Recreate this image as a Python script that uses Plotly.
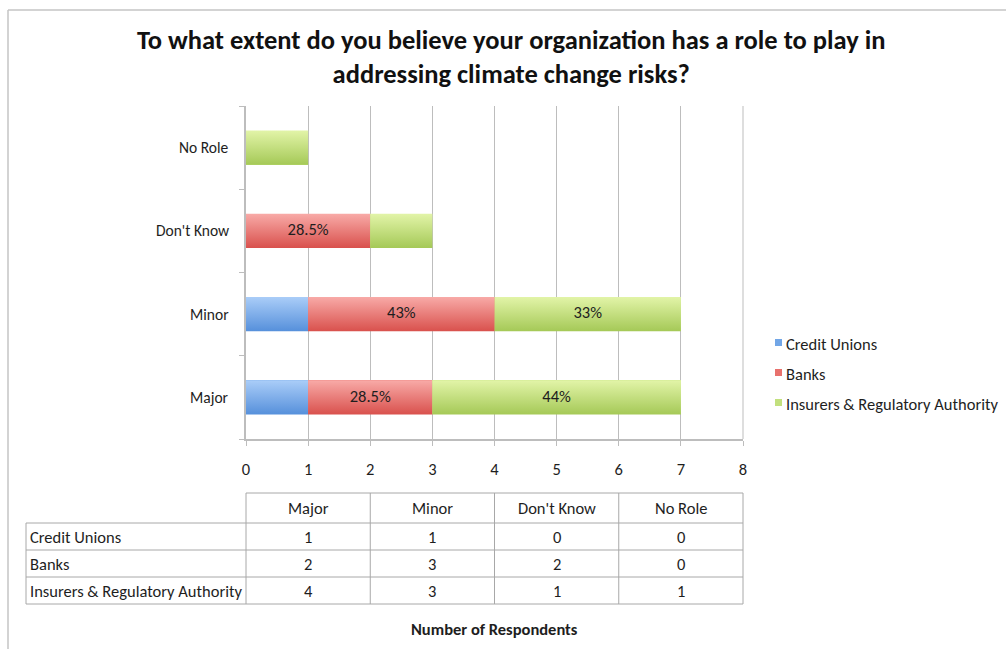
import plotly.graph_objects as go

# ---- data -------------------------------------------------------------
categories = ["Major", "Minor", "Don't Know", "No Role"]
series_names = ["Credit Unions", "Banks", "Insurers & Regulatory Authority"]
credit_unions = [1, 1, 0, 0]
banks = [2, 3, 2, 0]
insurers = [4, 3, 1, 1]
credit_unions_labels = ["", "", "", ""]
banks_labels = ["28.5%", "43%", "28.5%", ""]
insurers_labels = ["44%", "33%", "", ""]
x_ticks = [0, 1, 2, 3, 4, 5, 6, 7, 8]

title_text = ("To what extent do you believe your organization has a role to play in"
              "<br>addressing climate change risks?")
x_title = "Number of Respondents"

# ---- geometry / styles ------------------------------------------------
W, H = 1006, 649
L, R, T, B = 246, 263, 106, 210
PW, PH = W - L - R, H - T - B
FONT = "Carlito, Calibri, Lato, sans-serif"
GRID = "#bdbdbd"
TEXT = "#1e1e1e"
BAR_H = 0.41
FS = 16.5

# (legend colour, gradient top, gradient bottom)
palette = [
    ("#72a6e6", "#aacdf8", "#5690db"),
    ("#e8716d", "#f8aaa7", "#d9514d"),
    ("#c2e07e", "#e2f4a8", "#a5c957"),
]


def pxx(x):
    return (x - L) / PW


def pxy(y):
    return (H - B - y) / PH


series_values = [credit_unions, banks, insurers]
series_labels = [credit_unions_labels, banks_labels, insurers_labels]
ypos = list(range(len(categories)))

fig = go.Figure()

# stacked bars (solid base)
for name, vals, (solid, _, _) in zip(series_names, series_values, palette):
    fig.add_trace(go.Bar(
        y=ypos, x=vals, orientation="h", name=name, width=BAR_H,
        marker=dict(color=solid, line=dict(width=0)),
        showlegend=False, hoverinfo="x+name",
    ))

# vertical gradient overlay on each bar segment
base = [0] * len(categories)
centers = []
for vals, (_, top, bottom) in zip(series_values, palette):
    cen = []
    for i, v in enumerate(vals):
        b0 = base[i]
        cen.append(b0 + v / 2)
        if v > 0:
            y0, y1 = i - BAR_H / 2, i + BAR_H / 2
            fig.add_trace(go.Scatter(
                x=[b0, b0 + v, b0 + v, b0, b0],
                y=[y0, y0, y1, y1, y0],
                mode="none", fill="toself",
                fillgradient=dict(type="vertical",
                                  colorscale=[[0, bottom], [1, top]]),
                showlegend=False, hoverinfo="skip",
            ))
        base[i] = b0 + v
    centers.append(cen)

# in-bar percentage labels
for cen, labels in zip(centers, series_labels):
    fig.add_trace(go.Scatter(
        x=cen, y=ypos, text=labels, mode="text",
        textposition="middle center",
        textfont=dict(family=FONT, size=FS, color=TEXT),
        showlegend=False, hoverinfo="skip",
    ))

annotations = []
shapes = []

# category labels on the vertical axis
for i, c in enumerate(categories):
    annotations.append(dict(
        x=0, xref="paper", y=i, yref="y", text=c, showarrow=False,
        xanchor="right", yanchor="middle", xshift=-15,
        font=dict(family=FONT, size=15.5, color=TEXT),
    ))

# gridline at the far end of the value axis
shapes.append(dict(type="line", xref="paper", yref="paper",
                   x0=1, x1=1, y0=0, y1=1, line=dict(color=GRID, width=1)))

# legend: small swatches with series names
for k, (name, (solid, top, bottom)) in enumerate(zip(series_names, palette)):
    yc = 342.5 + 30 * k
    shapes.append(dict(type="rect", xref="paper", yref="paper",
                       x0=pxx(775), x1=pxx(782), y0=pxy(yc - 3.5), y1=pxy(yc + 3.5),
                       fillcolor=solid, line=dict(width=0)))
    annotations.append(dict(
        x=pxx(784), y=pxy(yc + 1), xref="paper", yref="paper", text=name,
        showarrow=False, xanchor="left", yanchor="middle",
        font=dict(family=FONT, size=FS, color=TEXT)))

# data table below the axis; columns line up with pairs of axis units
xmax = x_ticks[-1]
col_w = xmax / len(categories)
col_edges = [pxx(L) + (k * col_w) / xmax for k in range(len(categories) + 1)]
left_edge = pxx(26)
row_lines = [pxy(493), pxy(523), pxy(550), pxy(577), pxy(604)]
line_style = dict(color="#a8a8a8", width=1)

shapes.append(dict(type="line", xref="paper", yref="paper",
                   x0=col_edges[0], x1=col_edges[-1],
                   y0=row_lines[0], y1=row_lines[0], line=line_style))
for yl in row_lines[1:]:
    shapes.append(dict(type="line", xref="paper", yref="paper",
                       x0=left_edge, x1=col_edges[-1], y0=yl, y1=yl,
                       line=line_style))
shapes.append(dict(type="line", xref="paper", yref="paper",
                   x0=left_edge, x1=left_edge,
                   y0=row_lines[1], y1=row_lines[-1], line=line_style))
for xe in col_edges:
    shapes.append(dict(type="line", xref="paper", yref="paper",
                       x0=xe, x1=xe, y0=row_lines[0], y1=row_lines[-1],
                       line=line_style))

cell_font = dict(family=FONT, size=FS, color=TEXT)
for k, c in enumerate(categories):
    xc = (col_edges[k] + col_edges[k + 1]) / 2
    annotations.append(dict(
        x=xc, y=(row_lines[0] + row_lines[1]) / 2, xref="paper", yref="paper",
        text=c, showarrow=False, xanchor="center", yanchor="middle",
        font=cell_font))
for r, (name, vals) in enumerate(zip(series_names, series_values)):
    yc = (row_lines[r + 1] + row_lines[r + 2]) / 2
    annotations.append(dict(
        x=pxx(28), y=yc, xref="paper", yref="paper", text=name,
        showarrow=False, xanchor="left", yanchor="middle", font=cell_font))
    for k, v in enumerate(vals):
        xc = (col_edges[k] + col_edges[k + 1]) / 2
        annotations.append(dict(
            x=xc, y=yc, xref="paper", yref="paper", text=str(v),
            showarrow=False, xanchor="center", yanchor="middle",
            font=cell_font))

# axis title under the table
annotations.append(dict(
    x=0.5, y=pxy(629), xref="paper", yref="paper", text=f"<b>{x_title}</b>",
    showarrow=False, xanchor="center", yanchor="middle",
    font=dict(family=FONT, size=FS, color=TEXT)))

# chart title
annotations.append(dict(
    x=pxx(511), y=pxy(57), xref="paper", yref="paper", text=f"<b>{title_text}</b>",
    showarrow=False, align="center", xanchor="center", yanchor="middle",
    font=dict(family=FONT, size=26.5, color="#111111")))

# outer frame (left and top edges)
frame = dict(color="#c4c4c4", width=1.5)
shapes.append(dict(type="line", xref="paper", yref="paper",
                   x0=pxx(8), x1=pxx(8), y0=pxy(10), y1=pxy(H), line=frame))
shapes.append(dict(type="line", xref="paper", yref="paper",
                   x0=pxx(8), x1=pxx(W), y0=pxy(10), y1=pxy(10), line=frame))

fig.update_layout(
    width=W, height=H,
    margin=dict(l=L, r=R, t=T, b=B, pad=0, autoexpand=False),
    paper_bgcolor="white", plot_bgcolor="white",
    barmode="stack",
    showlegend=False,
    xaxis=dict(
        range=[x_ticks[0], x_ticks[-1]], tickvals=x_ticks,
        showgrid=True, gridcolor=GRID, gridwidth=1,
        showline=True, linecolor=GRID, linewidth=1.5,
        ticks="outside", ticklen=5, tickcolor=GRID,
        ticklabelstandoff=9, zeroline=False,
        tickfont=dict(family=FONT, size=FS, color=TEXT),
        fixedrange=True,
    ),
    yaxis=dict(
        range=[-0.5, len(categories) - 0.5],
        tickvals=[i - 0.5 for i in range(len(categories) + 1)],
        ticktext=[""] * (len(categories) + 1),
        showgrid=False, zeroline=False,
        showline=True, linecolor=GRID, linewidth=1.5,
        ticks="outside", ticklen=5, tickcolor=GRID,
        fixedrange=True,
    ),
    annotations=annotations,
    shapes=shapes,
    font=dict(family=FONT),
)

fig.write_html("out.html")
